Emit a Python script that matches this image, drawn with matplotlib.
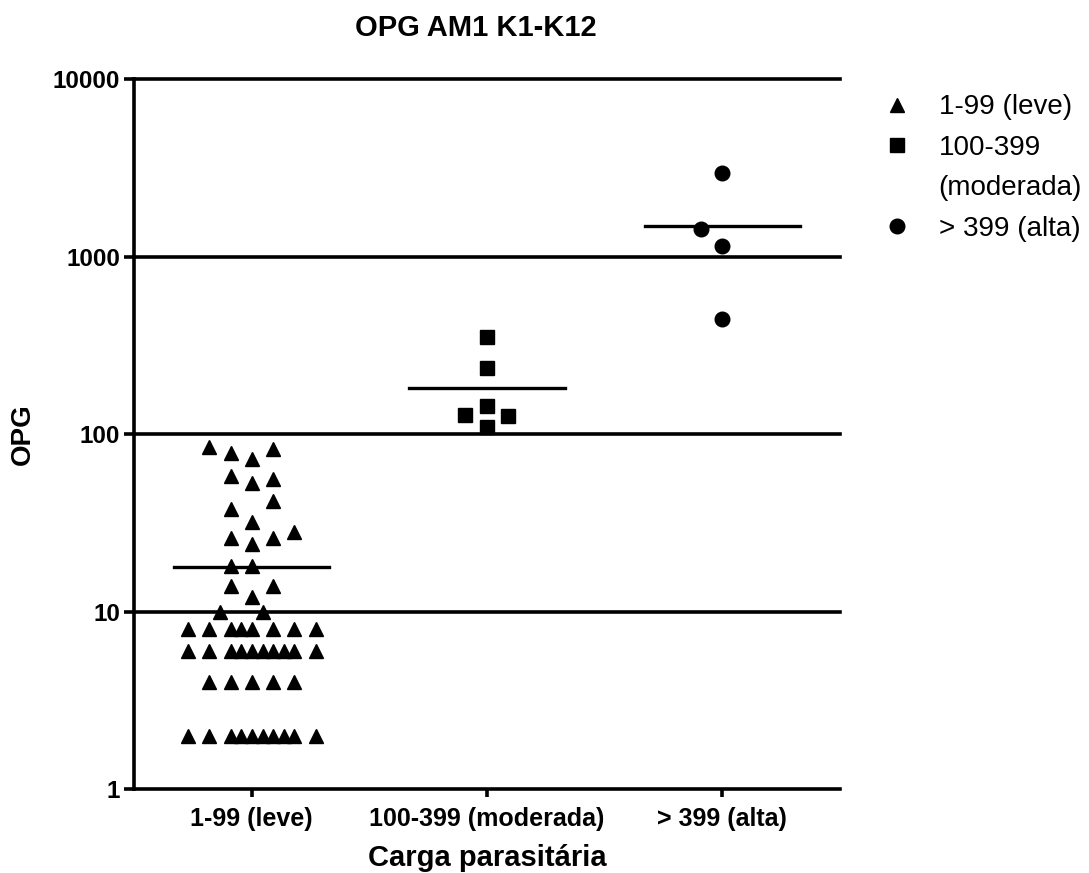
#OPG AM1 K1-K12 scatter with means

#Importing required packages.
import numpy as np
import matplotlib
import matplotlib.pyplot as plt
from matplotlib.lines import Line2D

#Font settings (Arial-like).
matplotlib.rc('font', family='Liberation Sans', weight='bold', size=18)

#Data.
categorias = ['1-99 (leve)', '100-399 (moderada)', '> 399 (alta)']
legenda = ['1-99 (leve)', '100-399', '(moderada)', '> 399 (alta)']

leve = [84, 78, 72, 82, 58, 53, 56, 42, 38, 32, 26, 24, 26, 28, 18, 18, 14, 14, 12,
        10, 10,
        8, 8, 8, 8, 8, 8, 8, 8,
        6, 6, 6, 6, 6, 6, 6, 6, 6, 6,
        4, 4, 4, 4, 4,
        2, 2, 2, 2, 2, 2, 2, 2, 2, 2]
moderada = [350, 236, 144, 128, 126, 110]
alta = [2950, 1430, 1150, 446]

#Horizontal scatter offsets of each point inside its column.
leve_jitter = [-0.183, -0.089, 0, 0.093, -0.089, 0, 0.093, 0.093, -0.089, 0,
               -0.089, 0, 0.093, 0.178, -0.089, 0, -0.089, 0.093, 0,
               -0.136, 0.047,
               -0.272, -0.183, -0.089, -0.047, 0, 0.093, 0.178, 0.272,
               -0.272, -0.183, -0.089, -0.047, 0, 0.047, 0.093, 0.136, 0.178, 0.272,
               -0.183, -0.089, 0, 0.093, 0.178,
               -0.272, -0.183, -0.089, -0.047, 0, 0.047, 0.093, 0.136, 0.178, 0.272]
moderada_jitter = [0, 0, 0, -0.093, 0.089, 0]
alta_jitter = [0, -0.089, 0, 0]

grupos = [leve, moderada, alta]
jitters = [leve_jitter, moderada_jitter, alta_jitter]
marcadores = ['^', 's', 'o']
tamanhos = [10.5, 10.5, 10.5]

fig = plt.figure(figsize=(10.89, 8.73), dpi=100)
ax = fig.add_axes([0.123, 0.0962, 0.6483, 0.8133])

#Horizontal grid lines at each decade.
for g in [10, 100, 1000, 10000]:
    ax.axhline(g, color='black', lw=2.6, zorder=1, clip_on=False)

#Points and mean lines.
handles = []
for i, (vals, jit) in enumerate(zip(grupos, jitters)):
    x = i + 1 + np.array(jit)
    h, = ax.plot(x, vals, linestyle='none', marker=marcadores[i], ms=tamanhos[i],
                 color='black', zorder=3)
    handles.append(h)
    media = np.mean(vals)
    ax.plot([i + 1 - 0.33, i + 1 + 0.33], [media, media], color='black', lw=2.4, zorder=2)

#Axes setup.
ax.set_yscale('log')
ax.set_ylim(1, 10000)
ax.set_xlim(0.5, 3.5)
ax.set_yticks([1, 10, 100, 1000, 10000])
ax.set_yticklabels(['1', '10', '100', '1000', '10000'])
ax.yaxis.set_minor_locator(matplotlib.ticker.NullLocator())
ax.set_xticks([1, 2, 3])
ax.set_xticklabels(categorias)
ax.tick_params(axis='both', direction='out', width=2.6, length=7, labelsize=18)
ax.tick_params(axis='y', labelsize=17.5, pad=3)
ax.tick_params(axis='x', length=6, pad=7)
for s in ['top', 'right']:
    ax.spines[s].set_visible(False)
for s in ['left', 'bottom']:
    ax.spines[s].set_linewidth(2.6)

#Labels and title.
ax.set_title('OPG AM1 K1-K12', fontsize=21, fontweight='bold', pad=31, x=0.484)
ax.set_xlabel('Carga parasitária', fontsize=21, fontweight='bold', labelpad=9)
ax.set_ylabel('OPG', fontsize=20, fontweight='bold', labelpad=12)

#Legend (second label line as its own row without marker).
blank = Line2D([], [], linestyle='none', marker='')
leg = fig.legend([handles[0], handles[1], blank, handles[2]], legenda,
                 loc='upper left', bbox_to_anchor=(0.811, 0.892), frameon=False,
                 prop={'family': 'Liberation Sans', 'weight': 'normal', 'size': 20},
                 handlelength=1.0, handletextpad=1.0, labelspacing=0.52, borderaxespad=0,
                 borderpad=0)

#Figure saved.
plt.savefig('out.png', dpi=100)
